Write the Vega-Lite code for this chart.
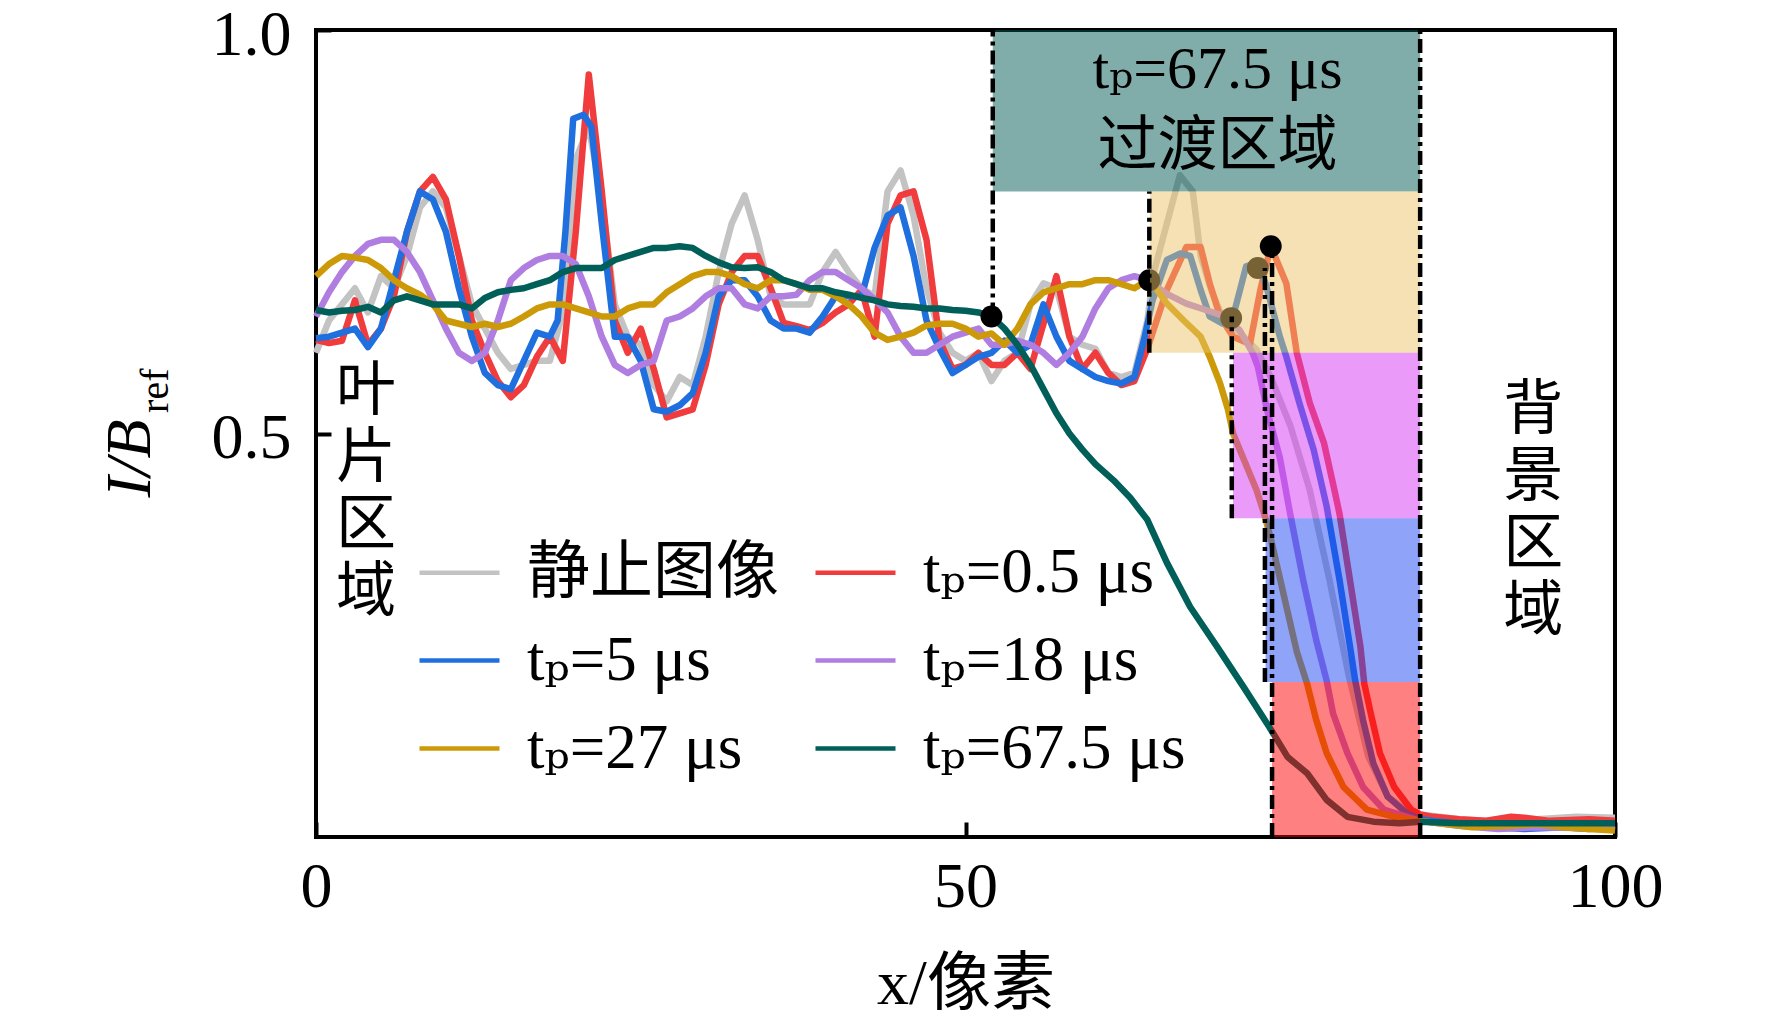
{
  "$schema": "https://vega.github.io/schema/vega-lite/v6.json",
  "width": 1299,
  "height": 807,
  "autosize": {"type": "none"},
  "padding": {"left": 316, "top": 30, "right": 157, "bottom": 190},
  "background": "white",
  "config": {
    "font": "Liberation Serif, DejaVu Serif, Noto Sans CJK SC",
    "view": {"stroke": "black", "strokeWidth": 4},
    "axis": {
      "grid": false,
      "domain": false,
      "ticks": true,
      "tickColor": "black",
      "tickWidth": 4,
      "tickSize": -15,
      "labelFontSize": 64,
      "labelColor": "black",
      "labelFlush": false,
      "titleColor": "black",
      "titleFontSize": 64,
      "titleFontWeight": "normal"
    },
    "legend": {
      "symbolType": "stroke",
      "symbolSize": 6400,
      "symbolStrokeWidth": 4.5,
      "labelFontSize": 63,
      "labelColor": "black",
      "labelOffset": 25,
      "labelLimit": 0,
      "rowPadding": 13,
      "columnPadding": 27
    }
  },
  "datasets": {
    "curves": [
      {"series": "静止图像", "x": 0, "y": 0.60}, {"series": "静止图像", "x": 1, "y": 0.64}, {"series": "静止图像", "x": 2, "y": 0.66}, {"series": "静止图像", "x": 3, "y": 0.68},
      {"series": "静止图像", "x": 4, "y": 0.65}, {"series": "静止图像", "x": 5, "y": 0.695}, {"series": "静止图像", "x": 6, "y": 0.68}, {"series": "静止图像", "x": 7, "y": 0.72},
      {"series": "静止图像", "x": 8, "y": 0.78}, {"series": "静止图像", "x": 9, "y": 0.80}, {"series": "静止图像", "x": 10, "y": 0.78}, {"series": "静止图像", "x": 11, "y": 0.72},
      {"series": "静止图像", "x": 12, "y": 0.66}, {"series": "静止图像", "x": 13, "y": 0.63}, {"series": "静止图像", "x": 14, "y": 0.60}, {"series": "静止图像", "x": 15, "y": 0.58},
      {"series": "静止图像", "x": 16, "y": 0.585}, {"series": "静止图像", "x": 17, "y": 0.59}, {"series": "静止图像", "x": 18, "y": 0.59}, {"series": "静止图像", "x": 19, "y": 0.65},
      {"series": "静止图像", "x": 20, "y": 0.84}, {"series": "静止图像", "x": 21, "y": 0.88}, {"series": "静止图像", "x": 22, "y": 0.79}, {"series": "静止图像", "x": 23, "y": 0.66},
      {"series": "静止图像", "x": 24, "y": 0.62}, {"series": "静止图像", "x": 25, "y": 0.61}, {"series": "静止图像", "x": 26, "y": 0.56}, {"series": "静止图像", "x": 27, "y": 0.54},
      {"series": "静止图像", "x": 28, "y": 0.57}, {"series": "静止图像", "x": 29, "y": 0.56}, {"series": "静止图像", "x": 30, "y": 0.62}, {"series": "静止图像", "x": 31, "y": 0.70},
      {"series": "静止图像", "x": 32, "y": 0.76}, {"series": "静止图像", "x": 33, "y": 0.795}, {"series": "静止图像", "x": 34, "y": 0.74}, {"series": "静止图像", "x": 35, "y": 0.67},
      {"series": "静止图像", "x": 36, "y": 0.66}, {"series": "静止图像", "x": 37, "y": 0.66}, {"series": "静止图像", "x": 38, "y": 0.66}, {"series": "静止图像", "x": 39, "y": 0.70},
      {"series": "静止图像", "x": 40, "y": 0.725}, {"series": "静止图像", "x": 41, "y": 0.70}, {"series": "静止图像", "x": 42, "y": 0.68}, {"series": "静止图像", "x": 43, "y": 0.67},
      {"series": "静止图像", "x": 44, "y": 0.80}, {"series": "静止图像", "x": 45, "y": 0.826}, {"series": "静止图像", "x": 46, "y": 0.77}, {"series": "静止图像", "x": 47, "y": 0.68},
      {"series": "静止图像", "x": 48, "y": 0.625}, {"series": "静止图像", "x": 49, "y": 0.60}, {"series": "静止图像", "x": 50, "y": 0.59}, {"series": "静止图像", "x": 51, "y": 0.60},
      {"series": "静止图像", "x": 52, "y": 0.565}, {"series": "静止图像", "x": 53, "y": 0.59}, {"series": "静止图像", "x": 54, "y": 0.60}, {"series": "静止图像", "x": 55, "y": 0.66},
      {"series": "静止图像", "x": 56, "y": 0.686}, {"series": "静止图像", "x": 57, "y": 0.68}, {"series": "静止图像", "x": 58, "y": 0.62}, {"series": "静止图像", "x": 59, "y": 0.61},
      {"series": "静止图像", "x": 60, "y": 0.605}, {"series": "静止图像", "x": 61, "y": 0.575}, {"series": "静止图像", "x": 62, "y": 0.57}, {"series": "静止图像", "x": 63, "y": 0.575},
      {"series": "静止图像", "x": 64, "y": 0.64}, {"series": "静止图像", "x": 64.5, "y": 0.70}, {"series": "静止图像", "x": 65.5, "y": 0.76}, {"series": "静止图像", "x": 66.5, "y": 0.82},
      {"series": "静止图像", "x": 67.5, "y": 0.80}, {"series": "静止图像", "x": 68.1, "y": 0.72}, {"series": "静止图像", "x": 68.9, "y": 0.678}, {"series": "静止图像", "x": 70, "y": 0.636},
      {"series": "静止图像", "x": 71.4, "y": 0.62}, {"series": "静止图像", "x": 72.4, "y": 0.604}, {"series": "静止图像", "x": 73.5, "y": 0.57}, {"series": "静止图像", "x": 75, "y": 0.51},
      {"series": "静止图像", "x": 76.5, "y": 0.43}, {"series": "静止图像", "x": 78, "y": 0.32}, {"series": "静止图像", "x": 79.5, "y": 0.2}, {"series": "静止图像", "x": 81, "y": 0.1},
      {"series": "静止图像", "x": 82.5, "y": 0.05}, {"series": "静止图像", "x": 84, "y": 0.032}, {"series": "静止图像", "x": 85, "y": 0.028}, {"series": "静止图像", "x": 86, "y": 0.026},
      {"series": "静止图像", "x": 88, "y": 0.022}, {"series": "静止图像", "x": 90, "y": 0.02}, {"series": "静止图像", "x": 92, "y": 0.024}, {"series": "静止图像", "x": 94, "y": 0.022},
      {"series": "静止图像", "x": 97, "y": 0.025}, {"series": "静止图像", "x": 100, "y": 0.024},

      {"series": "tₚ=0.5 μs", "x": 0, "y": 0.616}, {"series": "tₚ=0.5 μs", "x": 1, "y": 0.612}, {"series": "tₚ=0.5 μs", "x": 2, "y": 0.615}, {"series": "tₚ=0.5 μs", "x": 3, "y": 0.665},
      {"series": "tₚ=0.5 μs", "x": 4, "y": 0.61}, {"series": "tₚ=0.5 μs", "x": 5, "y": 0.63}, {"series": "tₚ=0.5 μs", "x": 6, "y": 0.67}, {"series": "tₚ=0.5 μs", "x": 7, "y": 0.75},
      {"series": "tₚ=0.5 μs", "x": 8, "y": 0.80}, {"series": "tₚ=0.5 μs", "x": 9, "y": 0.818}, {"series": "tₚ=0.5 μs", "x": 10, "y": 0.79}, {"series": "tₚ=0.5 μs", "x": 11, "y": 0.72},
      {"series": "tₚ=0.5 μs", "x": 12, "y": 0.64}, {"series": "tₚ=0.5 μs", "x": 13, "y": 0.60}, {"series": "tₚ=0.5 μs", "x": 14, "y": 0.565}, {"series": "tₚ=0.5 μs", "x": 15, "y": 0.545},
      {"series": "tₚ=0.5 μs", "x": 16, "y": 0.56}, {"series": "tₚ=0.5 μs", "x": 17, "y": 0.595}, {"series": "tₚ=0.5 μs", "x": 18, "y": 0.62}, {"series": "tₚ=0.5 μs", "x": 19, "y": 0.59},
      {"series": "tₚ=0.5 μs", "x": 20, "y": 0.75}, {"series": "tₚ=0.5 μs", "x": 21, "y": 0.945}, {"series": "tₚ=0.5 μs", "x": 22, "y": 0.80}, {"series": "tₚ=0.5 μs", "x": 23, "y": 0.64},
      {"series": "tₚ=0.5 μs", "x": 24, "y": 0.60}, {"series": "tₚ=0.5 μs", "x": 25, "y": 0.63}, {"series": "tₚ=0.5 μs", "x": 26, "y": 0.58}, {"series": "tₚ=0.5 μs", "x": 27, "y": 0.52},
      {"series": "tₚ=0.5 μs", "x": 28, "y": 0.525}, {"series": "tₚ=0.5 μs", "x": 29, "y": 0.53}, {"series": "tₚ=0.5 μs", "x": 30, "y": 0.585}, {"series": "tₚ=0.5 μs", "x": 31, "y": 0.66},
      {"series": "tₚ=0.5 μs", "x": 32, "y": 0.70}, {"series": "tₚ=0.5 μs", "x": 33, "y": 0.72}, {"series": "tₚ=0.5 μs", "x": 34, "y": 0.72}, {"series": "tₚ=0.5 μs", "x": 35, "y": 0.68},
      {"series": "tₚ=0.5 μs", "x": 36, "y": 0.637}, {"series": "tₚ=0.5 μs", "x": 37, "y": 0.633}, {"series": "tₚ=0.5 μs", "x": 38, "y": 0.628}, {"series": "tₚ=0.5 μs", "x": 39, "y": 0.637},
      {"series": "tₚ=0.5 μs", "x": 40, "y": 0.65}, {"series": "tₚ=0.5 μs", "x": 41, "y": 0.66}, {"series": "tₚ=0.5 μs", "x": 42, "y": 0.678}, {"series": "tₚ=0.5 μs", "x": 43, "y": 0.62},
      {"series": "tₚ=0.5 μs", "x": 44, "y": 0.76}, {"series": "tₚ=0.5 μs", "x": 45, "y": 0.795}, {"series": "tₚ=0.5 μs", "x": 46, "y": 0.80}, {"series": "tₚ=0.5 μs", "x": 47, "y": 0.74},
      {"series": "tₚ=0.5 μs", "x": 48, "y": 0.615}, {"series": "tₚ=0.5 μs", "x": 49, "y": 0.58}, {"series": "tₚ=0.5 μs", "x": 50, "y": 0.585}, {"series": "tₚ=0.5 μs", "x": 51, "y": 0.60},
      {"series": "tₚ=0.5 μs", "x": 52, "y": 0.585}, {"series": "tₚ=0.5 μs", "x": 53, "y": 0.585}, {"series": "tₚ=0.5 μs", "x": 54, "y": 0.60}, {"series": "tₚ=0.5 μs", "x": 55, "y": 0.58},
      {"series": "tₚ=0.5 μs", "x": 56, "y": 0.636}, {"series": "tₚ=0.5 μs", "x": 57, "y": 0.695}, {"series": "tₚ=0.5 μs", "x": 58, "y": 0.62}, {"series": "tₚ=0.5 μs", "x": 59, "y": 0.58},
      {"series": "tₚ=0.5 μs", "x": 60, "y": 0.60}, {"series": "tₚ=0.5 μs", "x": 61, "y": 0.575}, {"series": "tₚ=0.5 μs", "x": 62, "y": 0.56}, {"series": "tₚ=0.5 μs", "x": 63, "y": 0.565},
      {"series": "tₚ=0.5 μs", "x": 64, "y": 0.605}, {"series": "tₚ=0.5 μs", "x": 65.5, "y": 0.678}, {"series": "tₚ=0.5 μs", "x": 67, "y": 0.731}, {"series": "tₚ=0.5 μs", "x": 68.1, "y": 0.731},
      {"series": "tₚ=0.5 μs", "x": 68.8, "y": 0.686}, {"series": "tₚ=0.5 μs", "x": 69.6, "y": 0.645}, {"series": "tₚ=0.5 μs", "x": 70.6, "y": 0.62}, {"series": "tₚ=0.5 μs", "x": 71.9, "y": 0.611},
      {"series": "tₚ=0.5 μs", "x": 72.7, "y": 0.678}, {"series": "tₚ=0.5 μs", "x": 73.5, "y": 0.732}, {"series": "tₚ=0.5 μs", "x": 74.7, "y": 0.686}, {"series": "tₚ=0.5 μs", "x": 75.5, "y": 0.60},
      {"series": "tₚ=0.5 μs", "x": 76.5, "y": 0.538}, {"series": "tₚ=0.5 μs", "x": 77.6, "y": 0.488}, {"series": "tₚ=0.5 μs", "x": 78.4, "y": 0.43}, {"series": "tₚ=0.5 μs", "x": 78.8, "y": 0.40},
      {"series": "tₚ=0.5 μs", "x": 79.6, "y": 0.318}, {"series": "tₚ=0.5 μs", "x": 80.4, "y": 0.236}, {"series": "tₚ=0.5 μs", "x": 80.7, "y": 0.19}, {"series": "tₚ=0.5 μs", "x": 81.2, "y": 0.153},
      {"series": "tₚ=0.5 μs", "x": 81.9, "y": 0.104}, {"series": "tₚ=0.5 μs", "x": 83, "y": 0.062}, {"series": "tₚ=0.5 μs", "x": 84.3, "y": 0.034}, {"series": "tₚ=0.5 μs", "x": 85, "y": 0.028},
      {"series": "tₚ=0.5 μs", "x": 86, "y": 0.025}, {"series": "tₚ=0.5 μs", "x": 88, "y": 0.022}, {"series": "tₚ=0.5 μs", "x": 90, "y": 0.02}, {"series": "tₚ=0.5 μs", "x": 92, "y": 0.025},
      {"series": "tₚ=0.5 μs", "x": 93, "y": 0.024}, {"series": "tₚ=0.5 μs", "x": 95, "y": 0.02}, {"series": "tₚ=0.5 μs", "x": 98, "y": 0.022}, {"series": "tₚ=0.5 μs", "x": 100, "y": 0.02},

      {"series": "tₚ=5 μs", "x": 0, "y": 0.618}, {"series": "tₚ=5 μs", "x": 1, "y": 0.62}, {"series": "tₚ=5 μs", "x": 2, "y": 0.625}, {"series": "tₚ=5 μs", "x": 3, "y": 0.63},
      {"series": "tₚ=5 μs", "x": 4, "y": 0.607}, {"series": "tₚ=5 μs", "x": 5, "y": 0.63}, {"series": "tₚ=5 μs", "x": 6, "y": 0.69}, {"series": "tₚ=5 μs", "x": 7, "y": 0.75},
      {"series": "tₚ=5 μs", "x": 8, "y": 0.80}, {"series": "tₚ=5 μs", "x": 9, "y": 0.79}, {"series": "tₚ=5 μs", "x": 10, "y": 0.75}, {"series": "tₚ=5 μs", "x": 11, "y": 0.68},
      {"series": "tₚ=5 μs", "x": 12, "y": 0.62}, {"series": "tₚ=5 μs", "x": 13, "y": 0.575}, {"series": "tₚ=5 μs", "x": 14, "y": 0.56}, {"series": "tₚ=5 μs", "x": 15, "y": 0.555},
      {"series": "tₚ=5 μs", "x": 16, "y": 0.59}, {"series": "tₚ=5 μs", "x": 17, "y": 0.625}, {"series": "tₚ=5 μs", "x": 18, "y": 0.62}, {"series": "tₚ=5 μs", "x": 18.6, "y": 0.64},
      {"series": "tₚ=5 μs", "x": 19.2, "y": 0.75}, {"series": "tₚ=5 μs", "x": 19.8, "y": 0.89}, {"series": "tₚ=5 μs", "x": 20.6, "y": 0.895}, {"series": "tₚ=5 μs", "x": 21.2, "y": 0.88},
      {"series": "tₚ=5 μs", "x": 22, "y": 0.76}, {"series": "tₚ=5 μs", "x": 23, "y": 0.62}, {"series": "tₚ=5 μs", "x": 24, "y": 0.62}, {"series": "tₚ=5 μs", "x": 25, "y": 0.59},
      {"series": "tₚ=5 μs", "x": 26, "y": 0.53}, {"series": "tₚ=5 μs", "x": 27, "y": 0.527}, {"series": "tₚ=5 μs", "x": 28, "y": 0.535}, {"series": "tₚ=5 μs", "x": 29, "y": 0.55},
      {"series": "tₚ=5 μs", "x": 30, "y": 0.60}, {"series": "tₚ=5 μs", "x": 31, "y": 0.67}, {"series": "tₚ=5 μs", "x": 32, "y": 0.69}, {"series": "tₚ=5 μs", "x": 33, "y": 0.69},
      {"series": "tₚ=5 μs", "x": 34, "y": 0.67}, {"series": "tₚ=5 μs", "x": 35, "y": 0.64}, {"series": "tₚ=5 μs", "x": 36, "y": 0.63}, {"series": "tₚ=5 μs", "x": 37, "y": 0.63},
      {"series": "tₚ=5 μs", "x": 38, "y": 0.625}, {"series": "tₚ=5 μs", "x": 39, "y": 0.645}, {"series": "tₚ=5 μs", "x": 40, "y": 0.67}, {"series": "tₚ=5 μs", "x": 41, "y": 0.67},
      {"series": "tₚ=5 μs", "x": 42, "y": 0.67}, {"series": "tₚ=5 μs", "x": 43, "y": 0.73}, {"series": "tₚ=5 μs", "x": 44, "y": 0.77}, {"series": "tₚ=5 μs", "x": 45, "y": 0.78},
      {"series": "tₚ=5 μs", "x": 46, "y": 0.72}, {"series": "tₚ=5 μs", "x": 47, "y": 0.64}, {"series": "tₚ=5 μs", "x": 48, "y": 0.605}, {"series": "tₚ=5 μs", "x": 49, "y": 0.575},
      {"series": "tₚ=5 μs", "x": 50, "y": 0.585}, {"series": "tₚ=5 μs", "x": 51, "y": 0.595}, {"series": "tₚ=5 μs", "x": 52, "y": 0.60}, {"series": "tₚ=5 μs", "x": 53, "y": 0.615},
      {"series": "tₚ=5 μs", "x": 54, "y": 0.60}, {"series": "tₚ=5 μs", "x": 55, "y": 0.61}, {"series": "tₚ=5 μs", "x": 56, "y": 0.66}, {"series": "tₚ=5 μs", "x": 57, "y": 0.62},
      {"series": "tₚ=5 μs", "x": 58, "y": 0.59}, {"series": "tₚ=5 μs", "x": 59, "y": 0.58}, {"series": "tₚ=5 μs", "x": 60, "y": 0.57}, {"series": "tₚ=5 μs", "x": 61, "y": 0.565},
      {"series": "tₚ=5 μs", "x": 62, "y": 0.562}, {"series": "tₚ=5 μs", "x": 63, "y": 0.57}, {"series": "tₚ=5 μs", "x": 63.8, "y": 0.62}, {"series": "tₚ=5 μs", "x": 64.4, "y": 0.665},
      {"series": "tₚ=5 μs", "x": 65.5, "y": 0.715}, {"series": "tₚ=5 μs", "x": 66.5, "y": 0.723}, {"series": "tₚ=5 μs", "x": 67.3, "y": 0.72}, {"series": "tₚ=5 μs", "x": 68.1, "y": 0.678},
      {"series": "tₚ=5 μs", "x": 68.8, "y": 0.645}, {"series": "tₚ=5 μs", "x": 69.8, "y": 0.636}, {"series": "tₚ=5 μs", "x": 70.6, "y": 0.645}, {"series": "tₚ=5 μs", "x": 71.6, "y": 0.707},
      {"series": "tₚ=5 μs", "x": 72.4, "y": 0.711}, {"series": "tₚ=5 μs", "x": 73.1, "y": 0.686}, {"series": "tₚ=5 μs", "x": 74.2, "y": 0.62}, {"series": "tₚ=5 μs", "x": 74.7, "y": 0.595},
      {"series": "tₚ=5 μs", "x": 75.7, "y": 0.538}, {"series": "tₚ=5 μs", "x": 76.8, "y": 0.48}, {"series": "tₚ=5 μs", "x": 77.8, "y": 0.41}, {"series": "tₚ=5 μs", "x": 78.8, "y": 0.318},
      {"series": "tₚ=5 μs", "x": 79.6, "y": 0.236}, {"series": "tₚ=5 μs", "x": 80.0, "y": 0.194}, {"series": "tₚ=5 μs", "x": 80.6, "y": 0.145}, {"series": "tₚ=5 μs", "x": 81.4, "y": 0.091},
      {"series": "tₚ=5 μs", "x": 82.5, "y": 0.05}, {"series": "tₚ=5 μs", "x": 84, "y": 0.029}, {"series": "tₚ=5 μs", "x": 85, "y": 0.022}, {"series": "tₚ=5 μs", "x": 86, "y": 0.02},
      {"series": "tₚ=5 μs", "x": 88, "y": 0.016}, {"series": "tₚ=5 μs", "x": 90, "y": 0.013}, {"series": "tₚ=5 μs", "x": 93, "y": 0.01}, {"series": "tₚ=5 μs", "x": 96, "y": 0.012},
      {"series": "tₚ=5 μs", "x": 98, "y": 0.01}, {"series": "tₚ=5 μs", "x": 100, "y": 0.013},

      {"series": "tₚ=18 μs", "x": 0, "y": 0.645}, {"series": "tₚ=18 μs", "x": 1, "y": 0.675}, {"series": "tₚ=18 μs", "x": 2, "y": 0.70}, {"series": "tₚ=18 μs", "x": 3, "y": 0.72},
      {"series": "tₚ=18 μs", "x": 4, "y": 0.735}, {"series": "tₚ=18 μs", "x": 5, "y": 0.74}, {"series": "tₚ=18 μs", "x": 6, "y": 0.74}, {"series": "tₚ=18 μs", "x": 7, "y": 0.725},
      {"series": "tₚ=18 μs", "x": 8, "y": 0.70}, {"series": "tₚ=18 μs", "x": 9, "y": 0.665}, {"series": "tₚ=18 μs", "x": 10, "y": 0.63}, {"series": "tₚ=18 μs", "x": 11, "y": 0.60},
      {"series": "tₚ=18 μs", "x": 12, "y": 0.59}, {"series": "tₚ=18 μs", "x": 13, "y": 0.60}, {"series": "tₚ=18 μs", "x": 14, "y": 0.64}, {"series": "tₚ=18 μs", "x": 15, "y": 0.69},
      {"series": "tₚ=18 μs", "x": 16, "y": 0.705}, {"series": "tₚ=18 μs", "x": 17, "y": 0.715}, {"series": "tₚ=18 μs", "x": 18, "y": 0.72}, {"series": "tₚ=18 μs", "x": 19, "y": 0.72},
      {"series": "tₚ=18 μs", "x": 20, "y": 0.71}, {"series": "tₚ=18 μs", "x": 21, "y": 0.67}, {"series": "tₚ=18 μs", "x": 22, "y": 0.62}, {"series": "tₚ=18 μs", "x": 23, "y": 0.585},
      {"series": "tₚ=18 μs", "x": 24, "y": 0.575}, {"series": "tₚ=18 μs", "x": 25, "y": 0.585}, {"series": "tₚ=18 μs", "x": 26, "y": 0.59}, {"series": "tₚ=18 μs", "x": 27, "y": 0.64},
      {"series": "tₚ=18 μs", "x": 28, "y": 0.645}, {"series": "tₚ=18 μs", "x": 29, "y": 0.655}, {"series": "tₚ=18 μs", "x": 30, "y": 0.67}, {"series": "tₚ=18 μs", "x": 31, "y": 0.68},
      {"series": "tₚ=18 μs", "x": 32, "y": 0.68}, {"series": "tₚ=18 μs", "x": 33, "y": 0.66}, {"series": "tₚ=18 μs", "x": 34, "y": 0.655}, {"series": "tₚ=18 μs", "x": 35, "y": 0.67},
      {"series": "tₚ=18 μs", "x": 36, "y": 0.67}, {"series": "tₚ=18 μs", "x": 37, "y": 0.672}, {"series": "tₚ=18 μs", "x": 38, "y": 0.69}, {"series": "tₚ=18 μs", "x": 39, "y": 0.70},
      {"series": "tₚ=18 μs", "x": 40, "y": 0.70}, {"series": "tₚ=18 μs", "x": 41, "y": 0.69}, {"series": "tₚ=18 μs", "x": 42, "y": 0.68}, {"series": "tₚ=18 μs", "x": 43, "y": 0.666},
      {"series": "tₚ=18 μs", "x": 44, "y": 0.65}, {"series": "tₚ=18 μs", "x": 45, "y": 0.62}, {"series": "tₚ=18 μs", "x": 46, "y": 0.60}, {"series": "tₚ=18 μs", "x": 47, "y": 0.60},
      {"series": "tₚ=18 μs", "x": 48, "y": 0.61}, {"series": "tₚ=18 μs", "x": 49, "y": 0.62}, {"series": "tₚ=18 μs", "x": 50, "y": 0.625}, {"series": "tₚ=18 μs", "x": 51, "y": 0.63},
      {"series": "tₚ=18 μs", "x": 52, "y": 0.61}, {"series": "tₚ=18 μs", "x": 53, "y": 0.61}, {"series": "tₚ=18 μs", "x": 54, "y": 0.615}, {"series": "tₚ=18 μs", "x": 55, "y": 0.61},
      {"series": "tₚ=18 μs", "x": 56, "y": 0.60}, {"series": "tₚ=18 μs", "x": 57, "y": 0.585}, {"series": "tₚ=18 μs", "x": 58, "y": 0.60}, {"series": "tₚ=18 μs", "x": 59, "y": 0.62},
      {"series": "tₚ=18 μs", "x": 60, "y": 0.655}, {"series": "tₚ=18 μs", "x": 61, "y": 0.68}, {"series": "tₚ=18 μs", "x": 62, "y": 0.69}, {"series": "tₚ=18 μs", "x": 63, "y": 0.695},
      {"series": "tₚ=18 μs", "x": 64, "y": 0.69}, {"series": "tₚ=18 μs", "x": 65.5, "y": 0.673}, {"series": "tₚ=18 μs", "x": 67, "y": 0.661}, {"series": "tₚ=18 μs", "x": 68.5, "y": 0.653},
      {"series": "tₚ=18 μs", "x": 70, "y": 0.645}, {"series": "tₚ=18 μs", "x": 71.1, "y": 0.628}, {"series": "tₚ=18 μs", "x": 72.1, "y": 0.60}, {"series": "tₚ=18 μs", "x": 72.5, "y": 0.583},
      {"series": "tₚ=18 μs", "x": 73.2, "y": 0.53}, {"series": "tₚ=18 μs", "x": 74.2, "y": 0.47}, {"series": "tₚ=18 μs", "x": 75, "y": 0.40}, {"series": "tₚ=18 μs", "x": 76, "y": 0.318},
      {"series": "tₚ=18 μs", "x": 77, "y": 0.244}, {"series": "tₚ=18 μs", "x": 77.8, "y": 0.194}, {"series": "tₚ=18 μs", "x": 78.3, "y": 0.153}, {"series": "tₚ=18 μs", "x": 79.4, "y": 0.104},
      {"series": "tₚ=18 μs", "x": 80.6, "y": 0.062}, {"series": "tₚ=18 μs", "x": 82.2, "y": 0.034}, {"series": "tₚ=18 μs", "x": 84, "y": 0.025}, {"series": "tₚ=18 μs", "x": 85, "y": 0.02},
      {"series": "tₚ=18 μs", "x": 86, "y": 0.018}, {"series": "tₚ=18 μs", "x": 88, "y": 0.014}, {"series": "tₚ=18 μs", "x": 91, "y": 0.01}, {"series": "tₚ=18 μs", "x": 94, "y": 0.012},
      {"series": "tₚ=18 μs", "x": 97, "y": 0.011}, {"series": "tₚ=18 μs", "x": 100, "y": 0.015},

      {"series": "tₚ=27 μs", "x": 0, "y": 0.695}, {"series": "tₚ=27 μs", "x": 1, "y": 0.71}, {"series": "tₚ=27 μs", "x": 2, "y": 0.72}, {"series": "tₚ=27 μs", "x": 3, "y": 0.718},
      {"series": "tₚ=27 μs", "x": 4, "y": 0.715}, {"series": "tₚ=27 μs", "x": 5, "y": 0.705}, {"series": "tₚ=27 μs", "x": 6, "y": 0.69}, {"series": "tₚ=27 μs", "x": 7, "y": 0.68},
      {"series": "tₚ=27 μs", "x": 8, "y": 0.672}, {"series": "tₚ=27 μs", "x": 9, "y": 0.66}, {"series": "tₚ=27 μs", "x": 10, "y": 0.64}, {"series": "tₚ=27 μs", "x": 11, "y": 0.636},
      {"series": "tₚ=27 μs", "x": 12, "y": 0.632}, {"series": "tₚ=27 μs", "x": 13, "y": 0.636}, {"series": "tₚ=27 μs", "x": 14, "y": 0.632}, {"series": "tₚ=27 μs", "x": 15, "y": 0.636},
      {"series": "tₚ=27 μs", "x": 16, "y": 0.645}, {"series": "tₚ=27 μs", "x": 17, "y": 0.655}, {"series": "tₚ=27 μs", "x": 18, "y": 0.66}, {"series": "tₚ=27 μs", "x": 19, "y": 0.66},
      {"series": "tₚ=27 μs", "x": 20, "y": 0.655}, {"series": "tₚ=27 μs", "x": 21, "y": 0.65}, {"series": "tₚ=27 μs", "x": 22, "y": 0.645}, {"series": "tₚ=27 μs", "x": 23, "y": 0.645},
      {"series": "tₚ=27 μs", "x": 24, "y": 0.655}, {"series": "tₚ=27 μs", "x": 25, "y": 0.66}, {"series": "tₚ=27 μs", "x": 26, "y": 0.66}, {"series": "tₚ=27 μs", "x": 27, "y": 0.675},
      {"series": "tₚ=27 μs", "x": 28, "y": 0.685}, {"series": "tₚ=27 μs", "x": 29, "y": 0.695}, {"series": "tₚ=27 μs", "x": 30, "y": 0.70}, {"series": "tₚ=27 μs", "x": 31, "y": 0.70},
      {"series": "tₚ=27 μs", "x": 32, "y": 0.695}, {"series": "tₚ=27 μs", "x": 33, "y": 0.685}, {"series": "tₚ=27 μs", "x": 34, "y": 0.68}, {"series": "tₚ=27 μs", "x": 35, "y": 0.69},
      {"series": "tₚ=27 μs", "x": 36, "y": 0.69}, {"series": "tₚ=27 μs", "x": 37, "y": 0.685}, {"series": "tₚ=27 μs", "x": 38, "y": 0.678}, {"series": "tₚ=27 μs", "x": 39, "y": 0.678},
      {"series": "tₚ=27 μs", "x": 40, "y": 0.67}, {"series": "tₚ=27 μs", "x": 41, "y": 0.66}, {"series": "tₚ=27 μs", "x": 42, "y": 0.645}, {"series": "tₚ=27 μs", "x": 43, "y": 0.625},
      {"series": "tₚ=27 μs", "x": 44, "y": 0.616}, {"series": "tₚ=27 μs", "x": 45, "y": 0.62}, {"series": "tₚ=27 μs", "x": 46, "y": 0.625}, {"series": "tₚ=27 μs", "x": 47, "y": 0.634},
      {"series": "tₚ=27 μs", "x": 48, "y": 0.636}, {"series": "tₚ=27 μs", "x": 49, "y": 0.636}, {"series": "tₚ=27 μs", "x": 50, "y": 0.63}, {"series": "tₚ=27 μs", "x": 51, "y": 0.62},
      {"series": "tₚ=27 μs", "x": 52, "y": 0.624}, {"series": "tₚ=27 μs", "x": 53, "y": 0.61}, {"series": "tₚ=27 μs", "x": 54, "y": 0.63}, {"series": "tₚ=27 μs", "x": 55, "y": 0.66},
      {"series": "tₚ=27 μs", "x": 56, "y": 0.675}, {"series": "tₚ=27 μs", "x": 57, "y": 0.68}, {"series": "tₚ=27 μs", "x": 58, "y": 0.685}, {"series": "tₚ=27 μs", "x": 59, "y": 0.685},
      {"series": "tₚ=27 μs", "x": 60, "y": 0.69}, {"series": "tₚ=27 μs", "x": 61, "y": 0.69}, {"series": "tₚ=27 μs", "x": 62, "y": 0.685}, {"series": "tₚ=27 μs", "x": 63, "y": 0.68},
      {"series": "tₚ=27 μs", "x": 64, "y": 0.69}, {"series": "tₚ=27 μs", "x": 64.4, "y": 0.686}, {"series": "tₚ=27 μs", "x": 65.5, "y": 0.661}, {"series": "tₚ=27 μs", "x": 66.8, "y": 0.64},
      {"series": "tₚ=27 μs", "x": 68.1, "y": 0.62}, {"series": "tₚ=27 μs", "x": 68.8, "y": 0.595}, {"series": "tₚ=27 μs", "x": 69.6, "y": 0.562}, {"series": "tₚ=27 μs", "x": 70.2, "y": 0.53},
      {"series": "tₚ=27 μs", "x": 70.6, "y": 0.50}, {"series": "tₚ=27 μs", "x": 71.5, "y": 0.465}, {"series": "tₚ=27 μs", "x": 72.4, "y": 0.43}, {"series": "tₚ=27 μs", "x": 73, "y": 0.40},
      {"series": "tₚ=27 μs", "x": 73.5, "y": 0.37}, {"series": "tₚ=27 μs", "x": 74.5, "y": 0.30}, {"series": "tₚ=27 μs", "x": 75.5, "y": 0.23}, {"series": "tₚ=27 μs", "x": 76.3, "y": 0.19},
      {"series": "tₚ=27 μs", "x": 77, "y": 0.145}, {"series": "tₚ=27 μs", "x": 77.8, "y": 0.104}, {"series": "tₚ=27 μs", "x": 79.1, "y": 0.062}, {"series": "tₚ=27 μs", "x": 80.9, "y": 0.034},
      {"series": "tₚ=27 μs", "x": 83, "y": 0.025}, {"series": "tₚ=27 μs", "x": 85, "y": 0.02}, {"series": "tₚ=27 μs", "x": 86, "y": 0.018}, {"series": "tₚ=27 μs", "x": 89, "y": 0.012},
      {"series": "tₚ=27 μs", "x": 92, "y": 0.014}, {"series": "tₚ=27 μs", "x": 94, "y": 0.016}, {"series": "tₚ=27 μs", "x": 96, "y": 0.012}, {"series": "tₚ=27 μs", "x": 98, "y": 0.01},
      {"series": "tₚ=27 μs", "x": 100, "y": 0.008},

      {"series": "tₚ=67.5 μs", "x": 0, "y": 0.653}, {"series": "tₚ=67.5 μs", "x": 1, "y": 0.65}, {"series": "tₚ=67.5 μs", "x": 2, "y": 0.652}, {"series": "tₚ=67.5 μs", "x": 3, "y": 0.653},
      {"series": "tₚ=67.5 μs", "x": 4, "y": 0.657}, {"series": "tₚ=67.5 μs", "x": 5, "y": 0.65}, {"series": "tₚ=67.5 μs", "x": 6, "y": 0.665}, {"series": "tₚ=67.5 μs", "x": 7, "y": 0.67},
      {"series": "tₚ=67.5 μs", "x": 8, "y": 0.665}, {"series": "tₚ=67.5 μs", "x": 9, "y": 0.66}, {"series": "tₚ=67.5 μs", "x": 10, "y": 0.66}, {"series": "tₚ=67.5 μs", "x": 11, "y": 0.66},
      {"series": "tₚ=67.5 μs", "x": 12, "y": 0.655}, {"series": "tₚ=67.5 μs", "x": 13, "y": 0.668}, {"series": "tₚ=67.5 μs", "x": 14, "y": 0.675}, {"series": "tₚ=67.5 μs", "x": 15, "y": 0.678},
      {"series": "tₚ=67.5 μs", "x": 16, "y": 0.68}, {"series": "tₚ=67.5 μs", "x": 17, "y": 0.685}, {"series": "tₚ=67.5 μs", "x": 18, "y": 0.69}, {"series": "tₚ=67.5 μs", "x": 19, "y": 0.70},
      {"series": "tₚ=67.5 μs", "x": 20, "y": 0.705}, {"series": "tₚ=67.5 μs", "x": 21, "y": 0.705}, {"series": "tₚ=67.5 μs", "x": 22, "y": 0.705}, {"series": "tₚ=67.5 μs", "x": 23, "y": 0.715},
      {"series": "tₚ=67.5 μs", "x": 24, "y": 0.72}, {"series": "tₚ=67.5 μs", "x": 25, "y": 0.725}, {"series": "tₚ=67.5 μs", "x": 26, "y": 0.73}, {"series": "tₚ=67.5 μs", "x": 27, "y": 0.73},
      {"series": "tₚ=67.5 μs", "x": 28, "y": 0.732}, {"series": "tₚ=67.5 μs", "x": 29, "y": 0.73}, {"series": "tₚ=67.5 μs", "x": 30, "y": 0.72}, {"series": "tₚ=67.5 μs", "x": 31, "y": 0.712},
      {"series": "tₚ=67.5 μs", "x": 32, "y": 0.706}, {"series": "tₚ=67.5 μs", "x": 33, "y": 0.705}, {"series": "tₚ=67.5 μs", "x": 34, "y": 0.706}, {"series": "tₚ=67.5 μs", "x": 35, "y": 0.70},
      {"series": "tₚ=67.5 μs", "x": 36, "y": 0.69}, {"series": "tₚ=67.5 μs", "x": 37, "y": 0.685}, {"series": "tₚ=67.5 μs", "x": 38, "y": 0.68}, {"series": "tₚ=67.5 μs", "x": 39, "y": 0.68},
      {"series": "tₚ=67.5 μs", "x": 40, "y": 0.675}, {"series": "tₚ=67.5 μs", "x": 41, "y": 0.672}, {"series": "tₚ=67.5 μs", "x": 42, "y": 0.668}, {"series": "tₚ=67.5 μs", "x": 43, "y": 0.665},
      {"series": "tₚ=67.5 μs", "x": 44, "y": 0.66}, {"series": "tₚ=67.5 μs", "x": 45, "y": 0.658}, {"series": "tₚ=67.5 μs", "x": 46, "y": 0.657}, {"series": "tₚ=67.5 μs", "x": 47, "y": 0.655},
      {"series": "tₚ=67.5 μs", "x": 48, "y": 0.655}, {"series": "tₚ=67.5 μs", "x": 49, "y": 0.653}, {"series": "tₚ=67.5 μs", "x": 50, "y": 0.652}, {"series": "tₚ=67.5 μs", "x": 51, "y": 0.65},
      {"series": "tₚ=67.5 μs", "x": 52, "y": 0.645}, {"series": "tₚ=67.5 μs", "x": 53, "y": 0.63}, {"series": "tₚ=67.5 μs", "x": 54, "y": 0.61}, {"series": "tₚ=67.5 μs", "x": 55, "y": 0.585},
      {"series": "tₚ=67.5 μs", "x": 56, "y": 0.555}, {"series": "tₚ=67.5 μs", "x": 57, "y": 0.525}, {"series": "tₚ=67.5 μs", "x": 58, "y": 0.50}, {"series": "tₚ=67.5 μs", "x": 59, "y": 0.48},
      {"series": "tₚ=67.5 μs", "x": 60, "y": 0.462}, {"series": "tₚ=67.5 μs", "x": 61.4, "y": 0.442}, {"series": "tₚ=67.5 μs", "x": 62.7, "y": 0.42}, {"series": "tₚ=67.5 μs", "x": 64, "y": 0.393},
      {"series": "tₚ=67.5 μs", "x": 65.5, "y": 0.34}, {"series": "tₚ=67.5 μs", "x": 67.3, "y": 0.285}, {"series": "tₚ=67.5 μs", "x": 69.4, "y": 0.235}, {"series": "tₚ=67.5 μs", "x": 71.4, "y": 0.186},
      {"series": "tₚ=67.5 μs", "x": 73.4, "y": 0.136}, {"series": "tₚ=67.5 μs", "x": 74.8, "y": 0.099}, {"series": "tₚ=67.5 μs", "x": 76.3, "y": 0.079}, {"series": "tₚ=67.5 μs", "x": 77.8, "y": 0.046},
      {"series": "tₚ=67.5 μs", "x": 79.4, "y": 0.025}, {"series": "tₚ=67.5 μs", "x": 81.4, "y": 0.019}, {"series": "tₚ=67.5 μs", "x": 83.4, "y": 0.017}, {"series": "tₚ=67.5 μs", "x": 85, "y": 0.019},
      {"series": "tₚ=67.5 μs", "x": 88, "y": 0.017}, {"series": "tₚ=67.5 μs", "x": 92, "y": 0.017}, {"series": "tₚ=67.5 μs", "x": 96, "y": 0.017}, {"series": "tₚ=67.5 μs", "x": 100, "y": 0.017}
    ],
    "regions": [
      {"series": "tₚ=67.5 μs", "x1": 52.1, "x2": 85.0, "y1": 0.80, "y2": 1.0},
      {"series": "tₚ=27 μs", "x1": 64.2, "x2": 85.0, "y1": 0.60, "y2": 0.80},
      {"series": "tₚ=18 μs", "x1": 70.6, "x2": 85.0, "y1": 0.395, "y2": 0.60},
      {"series": "tₚ=5 μs", "x1": 73.1, "x2": 85.0, "y1": 0.192, "y2": 0.395},
      {"series": "tₚ=0.5 μs", "x1": 73.6, "x2": 85.0, "y1": 0.0, "y2": 0.192}
    ],
    "bounds": [
      {"x": 52.1, "y1": 0.645, "y2": 1.0},
      {"x": 64.15, "y1": 0.60, "y2": 0.80},
      {"x": 70.5, "y1": 0.395, "y2": 0.645},
      {"x": 73.05, "y1": 0.192, "y2": 0.705},
      {"x": 73.6, "y1": 0.0, "y2": 0.732},
      {"x": 85.0, "y1": 0.0, "y2": 1.0}
    ],
    "starts": [
      {"series": "tₚ=67.5 μs", "x": 52.0, "y": 0.645},
      {"series": "tₚ=27 μs", "x": 64.15, "y": 0.69},
      {"series": "tₚ=18 μs", "x": 70.45, "y": 0.643},
      {"series": "tₚ=5 μs", "x": 72.5, "y": 0.705},
      {"series": "tₚ=0.5 μs", "x": 73.5, "y": 0.732}
    ],
    "notes": [
      {"text": "tₚ=67.5 μs", "x": 69.4, "y": 0.95},
      {"text": "过渡区域", "x": 69.4, "y": 0.855},
      {"text": "叶\n片\n区\n域", "x": 3.85, "y": 0.552},
      {"text": "背\n景\n区\n域", "x": 93.7, "y": 0.528}
    ],
    "subscript": [
      {"text": "ref", "x": -12.3, "y": 0.553}
    ]
  },
  "layer": [
    {
      "data": {"name": "curves"},
      "mark": {"type": "line", "strokeWidth": 6.5, "strokeJoin": "round"},
      "encoding": {
        "x": {
          "field": "x", "type": "quantitative",
          "scale": {"domain": [0, 100], "nice": false, "zero": false},
          "axis": {"values": [0, 50, 100], "labelPadding": 33, "title": "x/像素", "titleY": 147, "titleX": 649.5, "titleBaseline": "middle"}
        },
        "y": {
          "field": "y", "type": "quantitative",
          "scale": {"domain": [0, 1], "nice": false, "zero": false},
          "axis": {"values": [0.5, 1.0], "format": ".1f", "labelPadding": 40, "labelBaseline": "middle", "labelOffset": 5, "title": "I/B", "titleFontStyle": "italic", "titleX": -186, "titleY": 428, "titleAlign": "center", "titleBaseline": "middle"}
        },
        "color": {
          "field": "series", "type": "nominal",
          "scale": {
            "domain": ["静止图像", "tₚ=5 μs", "tₚ=27 μs", "tₚ=0.5 μs", "tₚ=18 μs", "tₚ=67.5 μs"],
            "range": ["#C3C3C3", "#1F6FDE", "#CC9A08", "#F03C3C", "#B07DE0", "#005F58"]
          },
          "legend": {"title": null, "orient": "none", "legendX": 101, "legendY": 500, "columns": 2}
        }
      }
    },
    {
      "data": {"name": "starts"},
      "transform": [{"filter": "datum.series != 'tₚ=0.5 μs' && datum.series != 'tₚ=67.5 μs'"}],
      "mark": {"type": "point", "filled": true, "color": "black", "size": 480, "opacity": 1},
      "encoding": {
        "x": {"field": "x", "type": "quantitative"},
        "y": {"field": "y", "type": "quantitative"}
      }
    },
    {
      "data": {"name": "regions"},
      "mark": {"type": "rect", "opacity": 0.5},
      "encoding": {
        "x": {"field": "x1", "type": "quantitative"},
        "x2": {"field": "x2"},
        "y": {"field": "y1", "type": "quantitative"},
        "y2": {"field": "y2"},
        "fill": {
          "field": "series", "type": "nominal",
          "scale": {
            "domain": ["tₚ=0.5 μs", "tₚ=5 μs", "tₚ=18 μs", "tₚ=27 μs", "tₚ=67.5 μs"],
            "range": ["#FF0101", "#1F47F3", "#D535F1", "#EBC369", "#015B55"]
          },
          "legend": null
        }
      }
    },
    {
      "data": {"name": "bounds"},
      "mark": {"type": "rule", "color": "black", "strokeWidth": 4.5, "strokeDash": [14, 5, 4, 5]},
      "encoding": {
        "x": {"field": "x", "type": "quantitative"},
        "y": {"field": "y1", "type": "quantitative"},
        "y2": {"field": "y2"}
      }
    },
    {
      "data": {"name": "starts"},
      "transform": [{"filter": "datum.series == 'tₚ=0.5 μs' || datum.series == 'tₚ=67.5 μs'"}],
      "mark": {"type": "point", "filled": true, "color": "black", "size": 480, "opacity": 1},
      "encoding": {
        "x": {"field": "x", "type": "quantitative"},
        "y": {"field": "y", "type": "quantitative"}
      }
    },
    {
      "data": {"name": "notes"},
      "mark": {"type": "text", "fontSize": 60, "lineBreak": "\n", "lineHeight": 67, "align": "center", "baseline": "middle", "color": "black"},
      "encoding": {
        "x": {"field": "x", "type": "quantitative"},
        "y": {"field": "y", "type": "quantitative"},
        "text": {"field": "text"}
      }
    },
    {
      "data": {"name": "subscript"},
      "mark": {"type": "text", "fontSize": 40, "angle": 270, "align": "center", "baseline": "middle", "color": "black"},
      "encoding": {
        "x": {"field": "x", "type": "quantitative"},
        "y": {"field": "y", "type": "quantitative"},
        "text": {"field": "text"}
      }
    }
  ]
}
